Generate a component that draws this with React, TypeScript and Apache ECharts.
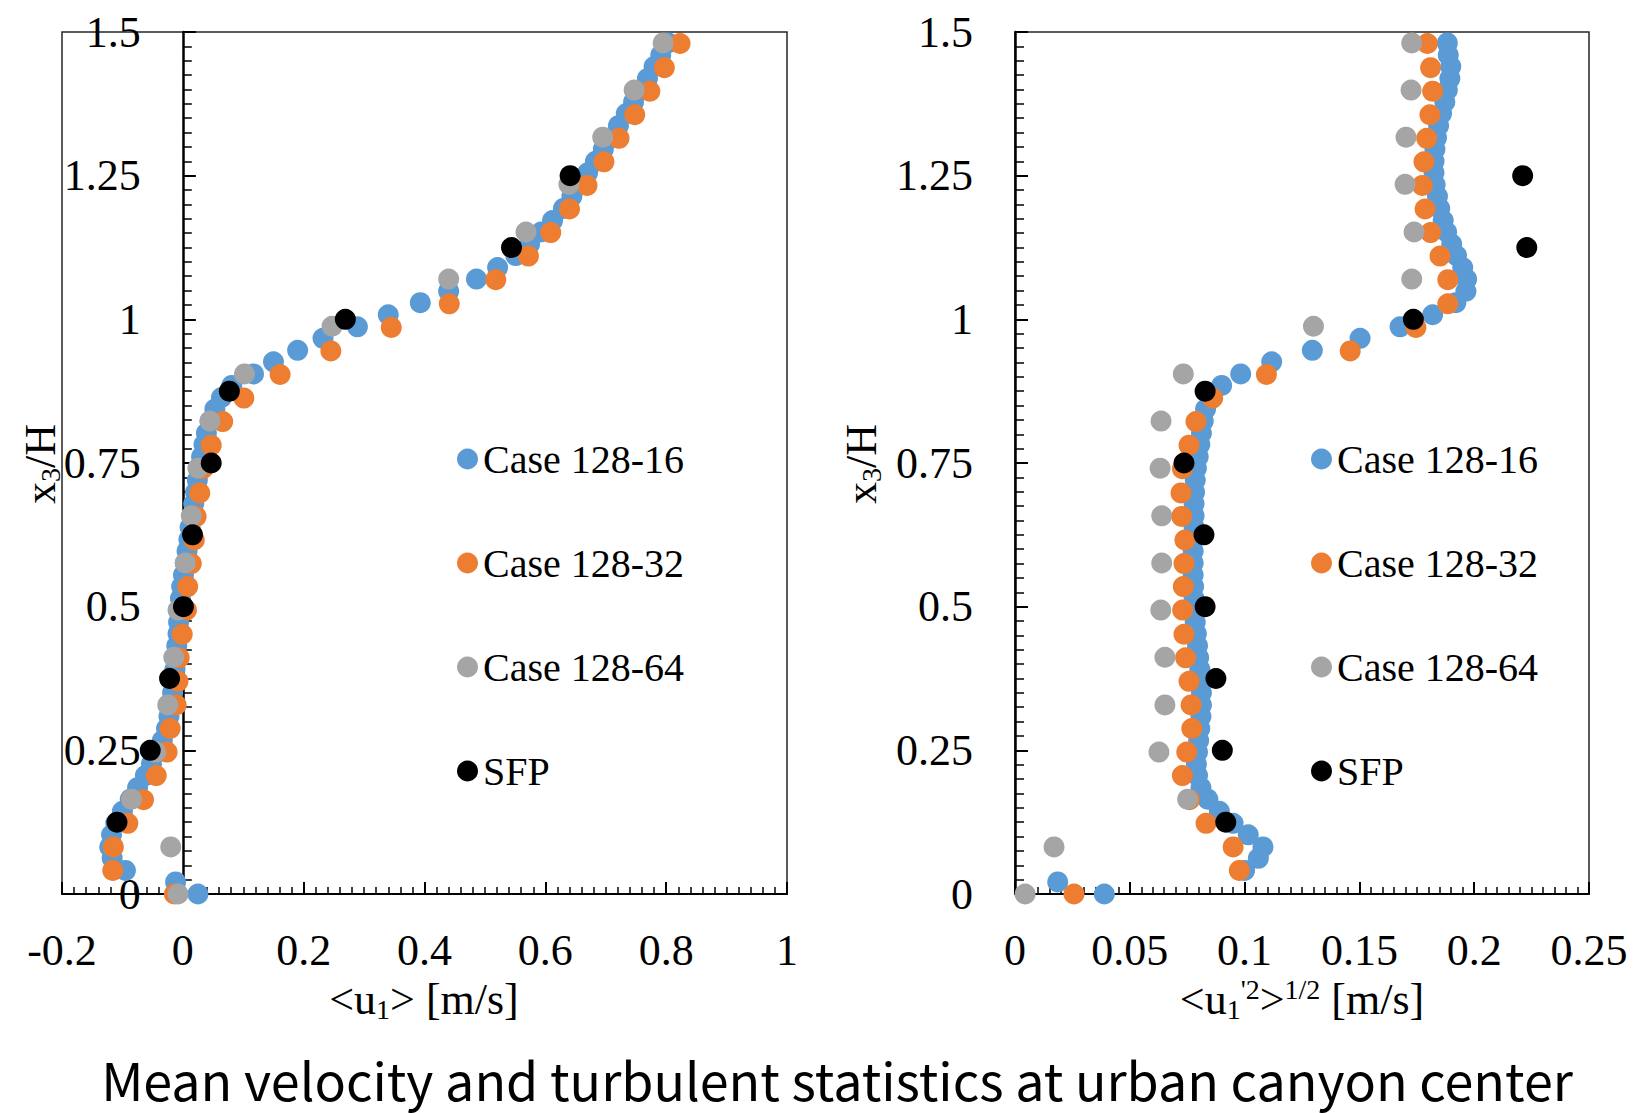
import React, { useEffect, useRef } from "react";
import * as echarts from "echarts";

// Heights x3/H of each data set
const HEIGHTS_16 = [
  0, 0.021, 0.041, 0.062, 0.082, 0.103, 0.123, 0.144, 0.165, 0.185, 0.206, 0.226, 0.247, 0.267, 0.288,
  0.309, 0.329, 0.35, 0.37, 0.391, 0.411, 0.432, 0.453, 0.473, 0.494, 0.514, 0.535, 0.555, 0.576, 0.597,
  0.617, 0.638, 0.658, 0.679, 0.699, 0.72, 0.741, 0.761, 0.782, 0.802, 0.823, 0.844, 0.864, 0.885, 0.905,
  0.926, 0.946, 0.967, 0.987, 1.008, 1.029, 1.049, 1.07, 1.09, 1.111, 1.131, 1.152, 1.172, 1.193, 1.214,
  1.234, 1.255, 1.275, 1.296, 1.316, 1.337, 1.358, 1.378, 1.399, 1.419, 1.44, 1.46, 1.481,
];
const HEIGHTS_32 = [
  0, 0.041, 0.082, 0.123, 0.164, 0.206, 0.247, 0.288, 0.329, 0.37, 0.411, 0.452, 0.494, 0.535, 0.575,
  0.616, 0.657, 0.698, 0.74, 0.781, 0.822, 0.863, 0.904, 0.945, 0.986, 1.027, 1.069, 1.11, 1.151, 1.192,
  1.233, 1.274, 1.315, 1.356, 1.397, 1.438, 1.48,
];
const HEIGHTS_64 = [
  0, 0.082, 0.165, 0.247, 0.329, 0.412, 0.494, 0.576, 0.658, 0.741, 0.823, 0.905, 0.988, 1.07, 1.152,
  1.235, 1.317, 1.399, 1.481,
];
const HEIGHTS_SFP = [0.125, 0.25, 0.375, 0.5, 0.625, 0.75, 0.875, 1.0, 1.125, 1.25];

// Mean velocity <u1> [m/s]
const MEAN_16 = [
  0.025, -0.012, -0.095, -0.117, -0.121, -0.118, -0.111, -0.1, -0.087, -0.075, -0.062, -0.052, -0.042,
  -0.034, -0.027, -0.023, -0.02, -0.017, -0.015, -0.013, -0.011, -0.01, -0.008, -0.007, -0.005, -0.004,
  -0.002, 0.001, 0.004, 0.007, 0.01, 0.012, 0.015, 0.018, 0.021, 0.024, 0.028, 0.031, 0.035, 0.039, 0.045,
  0.053, 0.064, 0.081, 0.117, 0.15, 0.19, 0.232, 0.289, 0.34, 0.393, 0.44, 0.486, 0.521, 0.551, 0.574,
  0.593, 0.612, 0.63, 0.644, 0.657, 0.67, 0.683, 0.696, 0.709, 0.721, 0.734, 0.746, 0.758, 0.769, 0.78,
  0.791, 0.803,
];
const MEAN_32 = [
  -0.014, -0.116, -0.115, -0.091, -0.065, -0.044, -0.026, -0.021, -0.011, -0.008, -0.006, -0.001, 0.006,
  0.008, 0.014, 0.019, 0.022, 0.028, 0.033, 0.047, 0.066, 0.101, 0.161, 0.245, 0.345, 0.441, 0.518, 0.572,
  0.609, 0.64, 0.669, 0.697, 0.722, 0.748, 0.773, 0.797, 0.823,
];
const MEAN_64 = [
  -0.008, -0.02, -0.085, -0.045, -0.025, -0.015, -0.008, 0.004, 0.014, 0.025, 0.045, 0.102, 0.247, 0.44,
  0.568, 0.639, 0.695, 0.747, 0.795,
];
const MEAN_SFP = [-0.109, -0.054, -0.022, 0.001, 0.016, 0.047, 0.077, 0.269, 0.544, 0.641];

// RMS velocity <u1'2>^1/2 [m/s]
const RMS_16 = [
  0.0389, 0.0186, 0.1, 0.106, 0.108, 0.1016, 0.095, 0.089, 0.084, 0.081, 0.0795, 0.079, 0.0795, 0.08,
  0.0805, 0.081, 0.0812, 0.0812, 0.081, 0.0805, 0.08, 0.0795, 0.079, 0.0785, 0.078, 0.078, 0.0778, 0.0776,
  0.0776, 0.0776, 0.0778, 0.078, 0.078, 0.078, 0.0782, 0.0785, 0.079, 0.0798, 0.0805, 0.0812, 0.082, 0.083,
  0.0855, 0.09, 0.0983, 0.1118, 0.1295, 0.1503, 0.1677, 0.1819, 0.192, 0.1964, 0.1967, 0.195, 0.1923,
  0.1902, 0.188, 0.1865, 0.185, 0.184, 0.183, 0.1825, 0.1825, 0.1829, 0.1836, 0.1845, 0.1858, 0.1872,
  0.1883, 0.1894, 0.1898, 0.1887, 0.1883,
];
const RMS_32 = [
  0.0257, 0.0977, 0.095, 0.0832, 0.076, 0.0729, 0.0748, 0.077, 0.0767, 0.0758, 0.0743, 0.0736, 0.073,
  0.0733, 0.0736, 0.074, 0.0726, 0.0723, 0.0729, 0.0758, 0.0788, 0.0861, 0.1095, 0.146, 0.1746, 0.1885,
  0.1885, 0.1851, 0.181, 0.1786, 0.1774, 0.1781, 0.1793, 0.1807, 0.1819, 0.181, 0.1796,
];
const RMS_64 = [
  0.0044, 0.017, 0.0752, 0.0627, 0.0653, 0.0653, 0.0635, 0.0639, 0.0639, 0.0632, 0.0636, 0.0733, 0.13,
  0.1728, 0.1738, 0.1699, 0.1703, 0.1725, 0.1728,
];
const RMS_SFP = [0.0918, 0.0903, 0.0875, 0.0828, 0.0823, 0.0736, 0.0828, 0.1735, 0.2229, 0.2211];

const SERIES_NAMES = ["Case 128-16", "Case 128-32", "Case 128-64", "SFP"];
const COLORS = ["#5B9BD5", "#ED7D31", "#A5A5A5", "#000000"];
const LEFT_TICKS = { min: -0.2, max: 1, interval: 0.2 };
const RIGHT_TICKS = { min: 0, max: 0.25, interval: 0.05 };
const Y_TICKS = { min: 0, max: 1.5, interval: 0.25 };

const SERIF = "Liberation Serif";

const LEFT_GRID = { left: 62, width: 725 };
const RIGHT_GRID = { left: 1015, width: 574 };

function pairs(xs: number[], hs: number[]) {
  return hs.map((h, i) => [xs[i], h]);
}

function xAxisCfg(gridIndex: number, t: { min: number; max: number; interval: number }) {
  return {
    type: "value",
    gridIndex,
    min: t.min,
    max: t.max,
    interval: t.interval,
    axisLine: { show: true, onZero: false, lineStyle: { color: "#000", width: 2 } },
    axisTick: { show: true, inside: true, length: 12, lineStyle: { color: "#000", width: 2 } },
    minorTick: { show: true, splitNumber: 10, length: 7, lineStyle: { color: "#000", width: 1.5 } },
    splitLine: { show: false },
    minorSplitLine: { show: false },
    axisLabel: { fontSize: 44, fontFamily: SERIF, color: "#000", margin: 34 },
  };
}

// offset: shift of the vertical axis from the grid's left edge to where x = 0
function yAxisCfg(gridIndex: number, offset: number) {
  return {
    type: "value",
    gridIndex,
    min: Y_TICKS.min,
    max: Y_TICKS.max,
    interval: Y_TICKS.interval,
    position: "left",
    offset: -offset,
    axisLine: { show: true, onZero: false, lineStyle: { color: "#000", width: 2.5 } },
    axisTick: { show: true, inside: true, length: 13, lineStyle: { color: "#000", width: 2 } },
    minorTick: { show: true, splitNumber: 10, length: 9, lineStyle: { color: "#000", width: 1.5 } },
    splitLine: { show: false },
    minorSplitLine: { show: false },
    axisLabel: { fontSize: 44, fontFamily: SERIF, color: "#000", margin: 42 },
  };
}

function legendCfg(left: number) {
  return {
    left,
    top: 432,
    orient: "vertical",
    itemGap: 60,
    icon: "circle",
    itemWidth: 21,
    itemHeight: 21,
    selectedMode: false,
    textStyle: { fontSize: 40, fontFamily: SERIF, color: "#000", lineHeight: 44 },
    data: SERIES_NAMES,
  };
}

const mainRich = { fontSize: 44, fontFamily: SERIF, fill: "#000", lineHeight: 48 };
const subRich = { fontSize: 28, fontFamily: SERIF, fill: "#000", lineHeight: 19, verticalAlign: "bottom" };
const supRich = { fontSize: 28, fontFamily: SERIF, fill: "#000", lineHeight: 22, verticalAlign: "top" };

export default function App() {
  const ref = useRef<HTMLDivElement>(null);
  useEffect(() => {
    if (!ref.current) return;
    const chart = echarts.init(ref.current, null, { renderer: "svg" });
    const leftData = [MEAN_16, MEAN_32, MEAN_64, MEAN_SFP];
    const rightData = [RMS_16, RMS_32, RMS_64, RMS_SFP];
    const heights = [HEIGHTS_16, HEIGHTS_32, HEIGHTS_64, HEIGHTS_SFP];
    const series: any[] = [];
    [leftData, rightData].forEach((set, gi) => {
      set.forEach((xs, i) => {
        series.push({
          type: "scatter",
          name: SERIES_NAMES[i],
          xAxisIndex: gi,
          yAxisIndex: gi,
          symbol: "circle",
          symbolSize: 21,
          itemStyle: { color: COLORS[i], opacity: 1 },
          emphasis: { disabled: true },
          data: pairs(xs, heights[i]),
        });
      });
    });
    const gridBase = {
      top: 32,
      height: 862,
      show: true,
      borderColor: "#262626",
      borderWidth: 1.5,
      backgroundColor: "rgba(0,0,0,0)",
      containLabel: false,
      outerBoundsMode: "none",
    };
    // position of x = 0 inside the left grid
    const leftZeroOffset =
      ((0 - LEFT_TICKS.min) / (LEFT_TICKS.max - LEFT_TICKS.min)) * LEFT_GRID.width;
    const option: any = {
      animation: false,
      backgroundColor: "#fff",
      grid: [
        { ...gridBase, ...LEFT_GRID },
        { ...gridBase, ...RIGHT_GRID },
      ],
      xAxis: [xAxisCfg(0, LEFT_TICKS), xAxisCfg(1, RIGHT_TICKS)],
      yAxis: [yAxisCfg(0, leftZeroOffset), yAxisCfg(1, 0)],
      legend: [legendCfg(452), legendCfg(1306)],
      series,
      graphic: [
        {
          type: "text",
          x: 424,
          y: 999,
          style: {
            text: "{m|<u}{sb|1}{m|> [m/s]}",
            rich: { m: mainRich, sb: subRich },
            align: "center",
            verticalAlign: "middle",
            fill: "#000",
          },
        },
        {
          type: "text",
          x: 1302,
          y: 999,
          style: {
            text: "{m|<u}{sb|1}{sp|'2}{m|>}{sp|1/2}{m| [m/s]}",
            rich: { m: mainRich, sb: subRich, sp: supRich },
            align: "center",
            verticalAlign: "middle",
            fill: "#000",
          },
        },
        {
          type: "text",
          x: 40,
          y: 464,
          rotation: Math.PI / 2,
          style: {
            text: "{m|x}{sb|3}{m|/H}",
            rich: { m: mainRich, sb: subRich },
            align: "center",
            verticalAlign: "middle",
            fill: "#000",
          },
        },
        {
          type: "text",
          x: 861,
          y: 464,
          rotation: Math.PI / 2,
          style: {
            text: "{m|x}{sb|3}{m|/H}",
            rich: { m: mainRich, sb: subRich },
            align: "center",
            verticalAlign: "middle",
            fill: "#000",
          },
        },
        {
          type: "text",
          x: 837,
          y: 1078,
          style: {
            text: "Mean velocity and turbulent statistics at urban canyon center",
            fontSize: 52,
            fontFamily: "Noto Sans CJK JP",
            fill: "#000",
            align: "center",
            verticalAlign: "middle",
          },
        },
      ],
    };
    chart.setOption(option);
    return () => chart.dispose();
  }, []);
  return (
    <div
      ref={ref}
      style={{ position: "fixed", left: 0, top: 0, width: 1634, height: 1113, background: "#fff" }}
    />
  );
}
